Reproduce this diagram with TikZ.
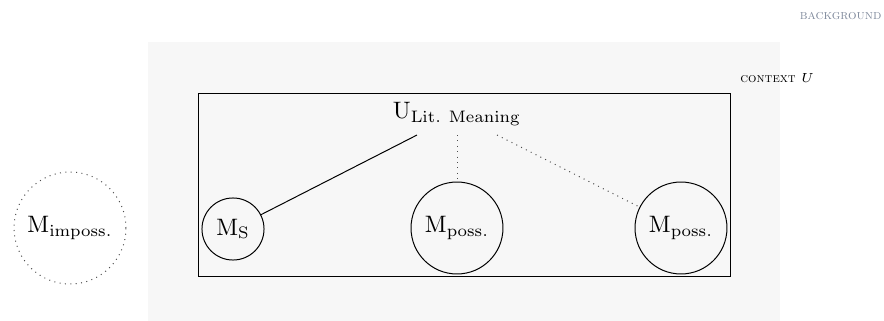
\documentclass[tikz,border=0pt]{standalone}
\usepackage{fix-cm}
\definecolor{bgtext}{RGB}{128,138,156}
\begin{document}
\begin{tikzpicture}[x=0.4545pt,y=-0.4545pt,
  lbl/.style={font=\fontsize{10.8}{13}\selectfont},
  world/.style={draw, circle, inner sep=0pt, line width=0.45pt, lbl},
  dotline/.style={dotted, line width=0.45pt, draw=black!70},
]
\useasboundingbox (0,0) rectangle (884,321);
\fill[black!3] (148,42) rectangle (780,321);
\node[font=\fontsize{6.1}{7}\selectfont\scshape, text=bgtext, anchor=east, inner sep=0pt] (bg) at (882,16) {background};
\node[font=\fontsize{6}{7}\selectfont, anchor=west, inner sep=0pt] (ctx) at (740,78) {\textsc{context} $U$};
\draw[line width=0.45pt] (198,93) rectangle (730,276);
\node[lbl] (U) at (457,114) {U$_{\mathrm{Lit.~Meaning}}$};
\node[world, minimum size=28.2pt] (MS) at (233,229) {M$_{\mathrm{S}}$};
\node[world, minimum size=41.8pt] (MP1) at (457,228) {M$_{\mathrm{poss.}}$};
\node[world, minimum size=41.8pt] (MP2) at (681,228) {M$_{\mathrm{poss.}}$};
\node[lbl, circle, draw=black!70, dotted, line width=0.45pt, inner sep=0pt, minimum size=50.9pt] (MI) at (70,228) {M$_{\mathrm{imposs.}}$};
\draw[line width=0.45pt] ([xshift=-18.2pt,yshift=-0.8pt]U.south) -- (MS);
\draw[dotline] ([yshift=-0.8pt]U.south) -- (MP1);
\draw[dotline] ([xshift=18.2pt,yshift=-0.8pt]U.south) -- (MP2);
\end{tikzpicture}
\end{document}
